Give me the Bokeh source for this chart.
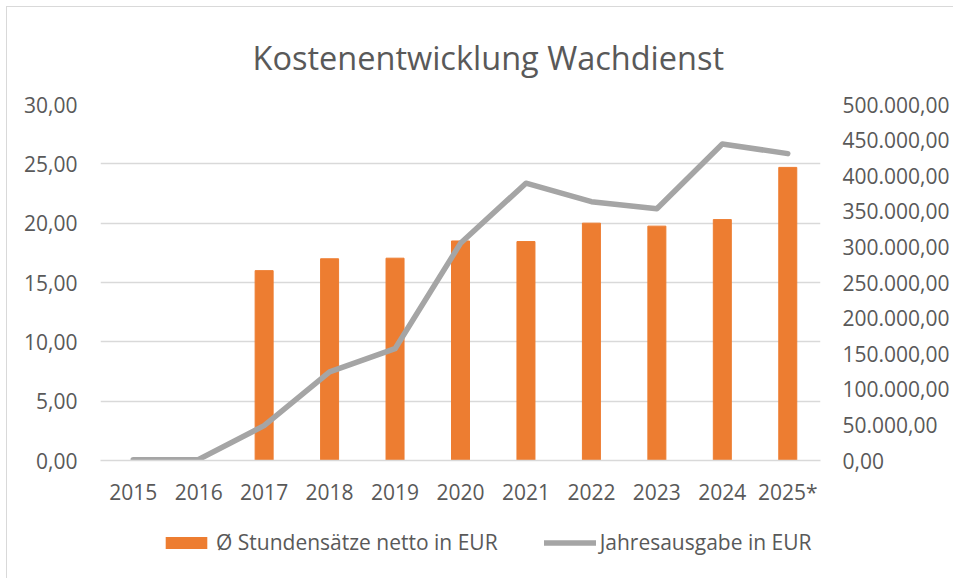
from bokeh.plotting import figure
from bokeh.models import (Range1d, LinearAxis, FixedTicker, CustomJSTickFormatter,
                          Legend, LegendItem, FactorRange)
from bokeh.layouts import column
from bokeh.embed import file_html
from bokeh.resources import INLINE

# ---- data ----
years = ["2015", "2016", "2017", "2018", "2019", "2020", "2021", "2022", "2023", "2024", "2025*"]
rate_years = ["2017", "2018", "2019", "2020", "2021", "2022", "2023", "2024", "2025*"]
hourly_rates = [16.0, 17.0, 17.05, 18.5, 18.45, 20.0, 19.75, 20.3, 24.7]
annual_spend = [1000, 1500, 49000, 124500, 157000, 305000, 389500, 363500, 353500, 444500, 431000]
left_ticks = [0, 5, 10, 15, 20, 25, 30]
right_ticks = [0, 50000, 100000, 150000, 200000, 250000, 300000, 350000, 400000, 450000, 500000]

TXT = "#595959"
FONT = "Open Sans"
BAR_COLOR = "#ED7D31"
LINE_COLOR = "#A5A5A5"
BORDER = "1.5px solid #D9D9D9"

# ---------- main chart ----------
p = figure(frame_width=719, frame_height=355, x_range=FactorRange(*years, range_padding=0),
           y_range=Range1d(0, 30), output_backend="svg", toolbar_location=None,
           min_border_left=93, min_border_right=134, min_border_top=96,
           min_border_bottom=60)
p.margin = (6, 0, 0, 6)
p.styles = {"border-left": BORDER, "border-top": BORDER}
p.outline_line_color = None
p.background_fill_color = "white"
p.border_fill_color = "white"

p.title.text = "Kostenentwicklung Wachdienst"
p.title.align = "left"
p.title.offset = 152
p.title.text_font = FONT
p.title.text_font_style = "normal"
p.title.text_font_size = "32.5px"
p.title.text_color = TXT
p.title.standoff = 50

p.extra_y_ranges = {"right": Range1d(0, 500000)}

p.vbar(x=rate_years, top=hourly_rates, width=0.275, color=BAR_COLOR)
p.line(x=years, y=annual_spend, y_range_name="right", line_color=LINE_COLOR,
       line_width=5.5, line_cap="round", line_join="round")

left_fmt = CustomJSTickFormatter(code="return tick.toFixed(2).replace('.', ',');")
right_fmt = CustomJSTickFormatter(code="""
const parts = tick.toFixed(2).split('.');
const ip = parts[0].replace(/\\B(?=(\\d{3})+(?!\\d))/g, '.');
return ip + ',' + parts[1];
""")

yl = p.yaxis[0]
yl.ticker = FixedTicker(ticks=left_ticks)
yl.formatter = left_fmt
yr = LinearAxis(y_range_name="right", ticker=FixedTicker(ticks=right_ticks), formatter=right_fmt)
p.add_layout(yr, "right")

for ax in (yl, yr):
    ax.axis_line_color = None
    ax.major_tick_line_color = None
    ax.minor_tick_line_color = None
    ax.major_label_text_font = FONT
    ax.major_label_text_font_size = "21px"
    ax.major_label_text_color = TXT
yl.major_label_standoff = 17
yr.major_label_standoff = 16

xa = p.xaxis[0]
xa.axis_line_color = "#D9D9D9"
xa.axis_line_width = 1.5
xa.major_tick_line_color = None
xa.minor_tick_line_color = None
xa.major_label_text_font = FONT
xa.major_label_text_font_size = "21px"
xa.major_label_text_color = TXT
xa.major_label_standoff = 11

p.xgrid.grid_line_color = None
p.ygrid.grid_line_color = "#D9D9D9"
p.ygrid.grid_line_width = 1.5
p.ygrid.ticker = FixedTicker(ticks=left_ticks)

# ---------- legend strip (legend keys only; their glyphs lie outside the view) ----------
q = figure(width=946, height=60, x_range=FactorRange(*years, range_padding=0),
           y_range=Range1d(1e7, 2e7), x_axis_type=None, y_axis_type=None,
           output_backend="svg", toolbar_location=None, min_border=0)
q.margin = (0, 0, 0, 6)
q.styles = {"border-left": BORDER}
q.outline_line_color = None
q.background_fill_color = "white"
q.border_fill_color = "white"
q.grid.visible = False

kb = q.vbar(x=rate_years, top=hourly_rates, bottom=hourly_rates, width=0.275,
            fill_color=BAR_COLOR, line_alpha=0)
kl = q.line(x=years, y=annual_spend, line_color=LINE_COLOR, line_width=5.5,
            line_cap="round", line_join="round")

legend = Legend(items=[LegendItem(label="Ø Stundensätze netto in EUR", renderers=[kb]),
                       LegendItem(label="Jahresausgabe in EUR", renderers=[kl])],
                orientation="horizontal", location=(60, 23))
legend.glyph_width = 52
legend.glyph_height = 15
legend.label_height = 24
legend.label_standoff = 4
legend.spacing = 46
legend.padding = 0
legend.margin = 0
legend.border_line_color = None
legend.background_fill_alpha = 0
legend.label_text_font = FONT
legend.label_text_font_size = "21px"
legend.label_text_color = TXT
q.add_layout(legend, "center")

layout = column(p, q, spacing=0)
open("out.html", "w").write(file_html(layout, INLINE))
